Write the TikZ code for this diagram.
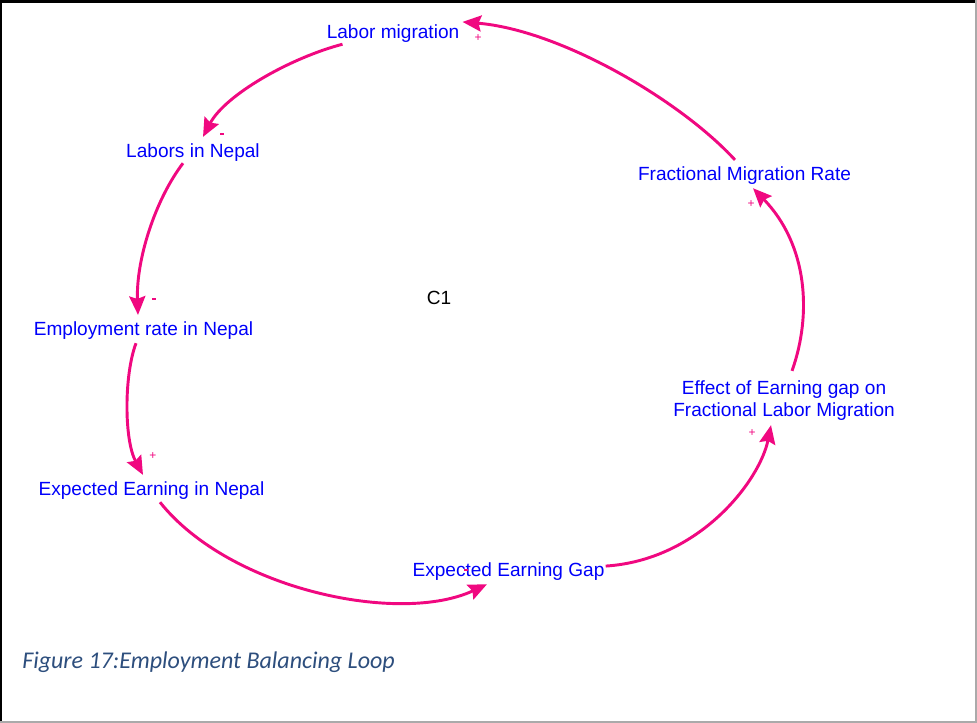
\documentclass[tikz,border=0pt]{standalone}
\usepackage{fontspec}
\setmainfont{Liberation Sans}
\newfontfamily\capfont{Carlito}
\usetikzlibrary{calc,arrows.meta}
\definecolor{lnkc}{RGB}{240,8,128}
\definecolor{vt}{RGB}{0,0,250}
\definecolor{capc}{RGB}{45,78,125}
\definecolor{frg}{RGB}{170,170,170}
\begin{document}
\begin{tikzpicture}[x=0.75pt,y=-0.75pt,
  var/.style={text=vt, font=\fontsize{14.3}{16.5}\selectfont, inner sep=0pt, anchor=base},
  lnk/.style={draw=lnkc, line width=2.2pt, -{Stealth[length=14pt,width=12pt,inset=2pt]}},
  sgn/.style={text=lnkc, font=\fontsize{9}{9}\selectfont, inner sep=0pt},
  neg/.style={fill=lnkc, draw=none, minimum width=3.5pt, minimum height=1.3pt, inner sep=0pt}]
\useasboundingbox (0,0) rectangle (977,723);
% frame
\draw[black, line width=2pt] (0,1.5) -- (977,1.5);
\draw[black, line width=1.5pt] (1,0) -- (1,723);
\draw[frg, line width=1.5pt] (975.5,0) -- (975.5,723);
\draw[frg, line width=1.5pt] (0,721.5) -- (977,721.5);
% variables
\node[var] (lm) at (393,39) {Labor migration};
\node[var] (ln) at (193,158) {Labors in Nepal};
\node[var] (er) at (143.5,335) {Employment rate in Nepal};
\node[var] (en) at (151.5,495) {Expected Earning in Nepal};
\node[var] (gap) at (508.5,576) {Expected Earning Gap};
\node[var, anchor=center, align=center] (ef) at (784,401) {Effect of Earning gap on\\Fractional Labor Migration};
\node[var] (fm) at (744.5,181) {Fractional Migration Rate};
\node[var, text=black] (c1) at (439,305) {C1};
% links
\draw[lnk] ($(lm.south west)+(16,1)$) .. controls (290,58) and (225,95) .. ($(ln.north)+(10,-7)$);
\draw[lnk] ($(ln.south)+(-10,1)$) .. controls (155,200) and (136,260) .. ($(er.north)+(-5.5,-6)$);
\draw[lnk] ($(er.south)+(-7.5,4)$) .. controls (124,375) and (124,440) .. ($(en.north)+(-8.5,-6)$);
\draw[lnk] ($(en.south)+(8.5,3)$) .. controls (230,590) and (400,625) .. ($(gap.south)+(-21.5,4)$);
\draw[lnk] ($(gap.east)+(1,-5)$) .. controls (700,560) and (760,480) .. ($(ef.south)+(-13,4)$);
\draw[lnk] ($(ef.north)+(8,-10)$) .. controls (812,315) and (808,245) .. ($(fm.south)+(8.5,3)$);
\draw[lnk] ($(fm.north)+(-9.5,-7)$) .. controls (680,100) and (560,30) .. ($(lm.north east)+(3,-3)$);
% polarity signs
\node[neg] (p1) at (222,134) {};
\node[neg] (p2) at (154,299) {};
\node[sgn] (p3) at (153,456) {+};
\node[neg] (p4) at (466,570) {};
\node[sgn] (p5) at (752,433) {+};
\node[sgn] (p6) at (751,204) {+};
\node[sgn] (p7) at (478,38) {+};
% caption
\node[anchor=base west, inner sep=0pt, text=capc, font=\capfont\itshape\fontsize{18}{21}\selectfont] (cap) at (22,668) {Figure 17:Employment Balancing Loop};
\end{tikzpicture}
\end{document}
